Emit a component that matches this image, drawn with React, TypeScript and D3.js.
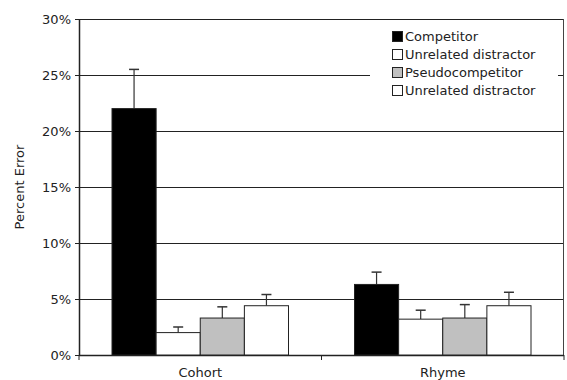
import React, { useEffect, useRef } from 'react';
import * as d3 from 'd3';

const categories = ['Cohort', 'Rhyme'];
const seriesNames = ['Competitor', 'Unrelated distractor', 'Pseudocompetitor', 'Unrelated distractor'];
const seriesFill = ['#000000', '#ffffff', '#c0c0c0', '#ffffff'];
// percent error, one array per series (Cohort, Rhyme)
const competitor = [22.0, 6.3];
const unrelated1 = [2.0, 3.2];
const pseudocompetitor = [3.3, 3.3];
const unrelated2 = [4.4, 4.4];
// top of the error bar
const competitorErr = [25.5, 7.4];
const unrelated1Err = [2.5, 4.0];
const pseudocompetitorErr = [4.3, 4.5];
const unrelated2Err = [5.4, 5.6];
const yTicks = [0, 5, 10, 15, 20, 25, 30];

const values = [competitor, unrelated1, pseudocompetitor, unrelated2];
const errors = [competitorErr, unrelated1Err, pseudocompetitorErr, unrelated2Err];

const App = () => {
  const ref = useRef<SVGSVGElement>(null);
  const width = 567;
  const height = 380;

  useEffect(() => {
    const svg = d3.select(ref.current);
    svg.selectAll('*').remove();
    const margin = { top: 19, right: 3, bottom: 25, left: 79 };
    const w = width - margin.left - margin.right;
    const h = height - margin.top - margin.bottom;
    const font = 'DejaVu Sans, sans-serif';

    const g = svg.append('g').attr('transform', `translate(${margin.left},${margin.top})`);

    const x0 = d3.scaleBand().domain(categories).range([0, w]).paddingInner(0).paddingOuter(0);
    const x1 = d3.scaleBand().domain(d3.range(4).map(String)).range([33, x0.bandwidth() - 33]).padding(0);
    const y = d3.scaleLinear().domain([0, 30]).range([h, 0]);

    // gridlines
    g.selectAll('.grid')
      .data(yTicks)
      .enter().append('line')
      .attr('x1', 0)
      .attr('x2', w)
      .attr('y1', d => y(d) + 0.5)
      .attr('y2', d => y(d) + 0.5)
      .style('stroke', '#222')
      .style('stroke-width', 1.2);

    // right border
    g.append('line')
      .attr('x1', w - 0.5).attr('x2', w - 0.5)
      .attr('y1', 0).attr('y2', h)
      .style('stroke', '#444').style('stroke-width', 1);

    // legend box (hides gridlines)
    g.append('rect')
      .attr('x', 291).attr('y', 10)
      .attr('width', 188).attr('height', 80)
      .style('fill', '#fff');

    // y axis
    const yAxis = g.append('g')
      .call(d3.axisLeft(y).tickValues(yTicks).tickSize(4).tickFormat(d => `${d}%`));
    yAxis.select('.domain').remove();
    yAxis.append('line').attr('x1', 0.5).attr('x2', 0.5).attr('y1', 0).attr('y2', h)
      .style('stroke', '#222').style('stroke-width', 1.5);
    yAxis.selectAll('text').style('font-family', font).style('font-size', '13px').style('fill', '#222').attr('x', -8);
    yAxis.selectAll('.tick line').style('stroke', '#222');

    // x axis
    const xAxis = g.append('g')
      .attr('transform', `translate(0,${h})`)
      .call(d3.axisBottom(x0).tickSize(0));
    xAxis.select('.domain').remove();
    xAxis.append('line').attr('x1', 0).attr('x2', w).attr('y1', 0.5).attr('y2', 0.5)
      .style('stroke', '#222').style('stroke-width', 1.5);
    xAxis.selectAll('.sep')
      .data([0, x0.bandwidth(), w])
      .enter().append('line')
      .attr('x1', d => d).attr('x2', d => d)
      .attr('y1', 0).attr('y2', 5)
      .style('stroke', '#222');
    xAxis.selectAll('text').style('font-family', font).style('font-size', '13px').style('fill', '#222')
      .attr('y', 12).attr('dy', '0.75em');

    // bars and error bars
    categories.forEach((cat, ci) => {
      values.forEach((vals, si) => {
        const bx = x0(cat)! + x1(String(si))!;
        const bw = x1.bandwidth();
        const cx = bx + bw / 2;
        g.append('line')
          .attr('x1', cx).attr('x2', cx)
          .attr('y1', y(vals[ci])).attr('y2', y(errors[si][ci]))
          .style('stroke', '#333').style('stroke-width', 1.2);
        g.append('line')
          .attr('x1', cx - 5).attr('x2', cx + 5)
          .attr('y1', y(errors[si][ci])).attr('y2', y(errors[si][ci]))
          .style('stroke', '#333').style('stroke-width', 1.5);
        g.append('rect')
          .attr('x', bx)
          .attr('y', y(vals[ci]))
          .attr('width', bw)
          .attr('height', h - y(vals[ci]))
          .style('fill', seriesFill[si])
          .style('stroke', '#222')
          .style('stroke-width', 1);
      });
    });

    // legend
    const legend = g.append('g').attr('transform', 'translate(313,12)');
    seriesNames.forEach((name, i) => {
      const item = legend.append('g').attr('transform', `translate(0,${i * 18})`);
      item.append('rect')
        .attr('x', 0.5).attr('y', 0.5)
        .attr('width', 10).attr('height', 10)
        .style('fill', seriesFill[i])
        .style('stroke', '#222');
      item.append('text')
        .attr('x', 13).attr('y', 10)
        .text(name)
        .style('font-family', font)
        .style('font-size', '13px')
        .style('fill', '#222');
    });

    // y axis title
    svg.append('text')
      .attr('transform', `translate(24,${margin.top + h / 2}) rotate(-90)`)
      .attr('text-anchor', 'middle')
      .text('Percent Error')
      .style('font-family', font)
      .style('font-size', '13px')
      .style('fill', '#222');
  }, []);

  return (
    <svg ref={ref} width={width} height={height} style={{ position: 'absolute', left: 0, top: 0, background: '#fff' }}></svg>
  );
};

export default App;
